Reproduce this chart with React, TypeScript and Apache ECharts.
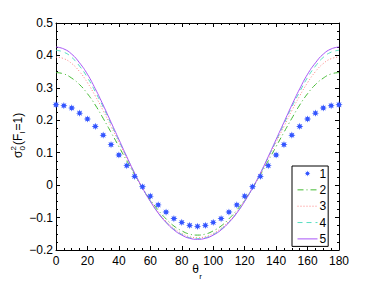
import React, { useEffect, useRef } from "react";
import * as echarts from "echarts";

const theta = [0, 5, 10, 15, 20, 25, 30, 35, 40, 45, 50, 55, 60, 65, 70, 75, 80, 85, 90, 95, 100, 105, 110, 115, 120, 125, 130, 135, 140, 145, 150, 155, 160, 165, 170, 175, 180];

const s1 = [0.248, 0.245, 0.238, 0.222, 0.204, 0.181, 0.154, 0.125, 0.093, 0.060, 0.027, -0.005, -0.034, -0.061, -0.083, -0.103, -0.115, -0.124, -0.127,
  -0.124, -0.115, -0.103, -0.083, -0.061, -0.034, -0.005, 0.027, 0.060, 0.093, 0.125, 0.154, 0.181, 0.204, 0.222, 0.238, 0.245, 0.248];
const s2 = [0.347, 0.343, 0.330, 0.310, 0.282, 0.247, 0.206, 0.163, 0.119, 0.075, 0.032, -0.009, -0.045, -0.077, -0.104, -0.126, -0.141, -0.151, -0.154,
  -0.151, -0.141, -0.126, -0.104, -0.077, -0.045, -0.009, 0.032, 0.075, 0.119, 0.163, 0.206, 0.247, 0.282, 0.310, 0.330, 0.343, 0.347];
const s3 = [0.395, 0.390, 0.375, 0.350, 0.316, 0.275, 0.230, 0.181, 0.132, 0.083, 0.035, -0.009, -0.048, -0.083, -0.111, -0.133, -0.149, -0.159, -0.162,
  -0.159, -0.149, -0.133, -0.111, -0.083, -0.048, -0.009, 0.035, 0.083, 0.132, 0.181, 0.230, 0.275, 0.316, 0.350, 0.375, 0.390, 0.395];
const s4 = [0.416, 0.410, 0.394, 0.367, 0.332, 0.288, 0.241, 0.189, 0.137, 0.086, 0.036, -0.009, -0.049, -0.085, -0.114, -0.136, -0.152, -0.162, -0.165,
  -0.162, -0.152, -0.136, -0.114, -0.085, -0.049, -0.009, 0.036, 0.086, 0.137, 0.189, 0.241, 0.288, 0.332, 0.367, 0.394, 0.410, 0.416];
const s5 = [0.426, 0.420, 0.404, 0.377, 0.342, 0.297, 0.247, 0.194, 0.141, 0.088, 0.037, -0.009, -0.050, -0.086, -0.115, -0.138, -0.154, -0.164, -0.167,
  -0.164, -0.154, -0.138, -0.115, -0.086, -0.050, -0.009, 0.037, 0.088, 0.141, 0.194, 0.247, 0.297, 0.342, 0.377, 0.404, 0.420, 0.426];

const seriesNames = ["1", "2", "3", "4", "5"];
const xTicks = { min: 0, max: 180, interval: 20 };
const yTicks = { min: -0.2, max: 0.5, interval: 0.1 };

const FONT = "Liberation Sans, Arial, Helvetica, sans-serif";
const STAR =
  "path://M0 0 M10 10 M8 5 L6.386 5.574 L7.121 7.121 L5.574 6.386 L5 8 L4.426 6.386 L2.879 7.121 L3.614 5.574 L2 5 L3.614 4.426 L2.879 2.879 L4.426 3.614 L5 2 L5.574 3.614 L7.121 2.879 L6.386 4.426 Z";

const pairs = (ys: number[]) => theta.map((t, i) => [t, ys[i]]);

export default function App() {
  const ref = useRef<HTMLDivElement>(null);
  useEffect(() => {
    if (!ref.current) return;
    const chart = echarts.init(ref.current, undefined, { renderer: "svg" });
    const axisCommon = {
      axisLine: { show: true, onZero: false, lineStyle: { color: "#000", width: 1 } },
      axisTick: { show: true, inside: true, length: 4, lineStyle: { color: "#000" } },
      minorTick: { show: true, splitNumber: 4, length: 2, lineStyle: { color: "#000" } },
      splitLine: { show: false },
      minorSplitLine: { show: false },
    };
    const fmtY = (v: number) => {
      const r = Math.round(v * 10) / 10;
      if (r === 0) return "0";
      return r < 0 ? "\u2212" + Math.abs(r).toFixed(1) : r.toFixed(1);
    };
    const lineSeries = (name: string, data: number[], color: string, type: any) => ({
      name,
      type: "line",
      data: pairs(data),
      smooth: true,
      symbol: "none",
      lineStyle: { color, width: 1, type },
      itemStyle: { color },
    });
    chart.setOption({
      animation: false,
      backgroundColor: "#fff",
      grid: { left: 56, right: 35, top: 23, bottom: 41, containLabel: false },
      xAxis: [
        {
          type: "value",
          ...xTicks,
          position: "bottom",
          ...axisCommon,
          axisLabel: { show: true, margin: 5, color: "#000", fontSize: 12, fontFamily: FONT },
        },
        {
          type: "value",
          ...xTicks,
          position: "top",
          ...axisCommon,
          axisLabel: { show: false },
        },
      ],
      yAxis: [
        {
          type: "value",
          ...yTicks,
          position: "left",
          ...axisCommon,
          axisLabel: { show: true, margin: 3, color: "#000", fontSize: 12, fontFamily: FONT, formatter: fmtY },
        },
        {
          type: "value",
          ...yTicks,
          position: "right",
          ...axisCommon,
          axisLabel: { show: false },
        },
      ],
      legend: {
        show: true,
        orient: "vertical",
        left: 292,
        top: 166,
        data: seriesNames.map((n, i) =>
          i === 0 ? { name: n } : { name: n, itemStyle: { opacity: 0 } }
        ),
        itemWidth: 20,
        itemHeight: 12,
        itemGap: 4.35,
        padding: [1.5, 2, 1.5, 5],
        borderColor: "#000",
        borderWidth: 1,
        backgroundColor: "#fff",
        lineStyle: { width: 1 },
        textStyle: { color: "#000", fontSize: 12, fontFamily: FONT, padding: [0, 0, 0, -3] },
        selectedMode: false,
      },
      series: [
        {
          name: seriesNames[0],
          type: "line",
          data: pairs(s1),
          symbol: STAR,
          symbolSize: 12,
          showSymbol: true,
          lineStyle: { width: 0, opacity: 0 },
          itemStyle: { color: "#3355ff" },
          z: 5,
        },
        lineSeries(seriesNames[1], s2, "#44bb33", [6, 3, 1, 3]),
        lineSeries(seriesNames[2], s3, "#ff8080", [1, 2]),
        lineSeries(seriesNames[3], s4, "#55ddc0", [5, 4]),
        lineSeries(seriesNames[4], s5, "#a855f7", "solid"),
      ],
      graphic: [
        {
          type: "group",
          x: 18,
          y: 158,
          rotation: Math.PI / 2,
          children: [
            { type: "text", x: 0, y: 0, style: { text: "\u03c3", font: `12px ${FONT}`, fill: "#000", align: "left", verticalAlign: "middle" } },
            { type: "text", x: 7.5, y: -5, style: { text: "2", font: `8px ${FONT}`, fill: "#000", align: "left", verticalAlign: "middle" } },
            { type: "text", x: 7.5, y: 4, style: { text: "0", font: `8px ${FONT}`, fill: "#000", align: "left", verticalAlign: "middle" } },
            { type: "text", x: 13, y: 0, style: { text: "(F", font: `12px ${FONT}`, fill: "#000", align: "left", verticalAlign: "middle" } },
            { type: "text", x: 24.5, y: 4, style: { text: "l", font: `8px ${FONT}`, fill: "#000", align: "left", verticalAlign: "middle" } },
            { type: "text", x: 27.5, y: 0, style: { text: "=1)", font: `12px ${FONT}`, fill: "#000", align: "left", verticalAlign: "middle" } },
          ],
        },
        { type: "text", x: 195.5, y: 269, style: { text: "\u03b8", font: `12px ${FONT}`, fill: "#000", align: "center", verticalAlign: "middle" } },
        { type: "text", x: 200.5, y: 276, style: { text: "r", font: `8px ${FONT}`, fill: "#000", align: "center", verticalAlign: "middle" } },
      ],
    });
    return () => chart.dispose();
  }, []);
  return <div ref={ref} style={{ position: "absolute", left: 0, top: 0, width: 374, height: 291 }} />;
}
